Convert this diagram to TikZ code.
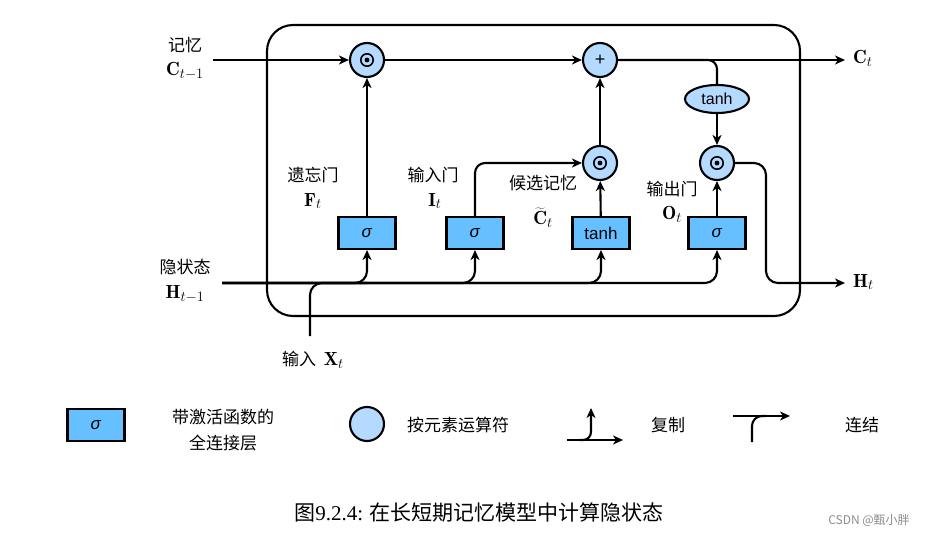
\documentclass[tikz,border=0pt]{standalone}
\usepackage{fontspec}
\setsansfont{Liberation Sans}
\newfontfamily\cjk{Noto Sans CJK SC}
\newfontfamily\capserif{Liberation Serif}
\usepackage{tikz}
\usetikzlibrary{shapes,arrows.meta,positioning,calc}

\definecolor{fcblue}{RGB}{102,192,255}
\definecolor{opblue}{RGB}{180,218,255}
\newcommand{\sg}{\textit{σ}}

\tikzset{
  line/.style={line width=2.1pt},
  arr/.style={line width=2.1pt, -{Stealth[length=10pt,width=9pt,inset=3pt]}},
  fc/.style={draw, line width=2.1pt, fill=fcblue, minimum width=57pt, minimum height=32pt,
    inner sep=0pt, font=\sffamily\fontsize{17}{17}\selectfont},
  op/.style={draw, circle, line width=2.1pt, fill=opblue, minimum size=34pt, inner sep=0pt,
    font=\sffamily\fontsize{18}{18}\selectfont},
  mul/.style={op, path picture={
    \draw[black, line width=1.6pt] (path picture bounding box.center) circle (6.2pt);
    \fill[black] (path picture bounding box.center) circle (2.4pt);}},
  zh/.style={font=\cjk\fontsize{17}{26}\selectfont, align=center, inner sep=0pt},
  var/.style={font=\fontsize{19}{19}\selectfont, inner sep=0pt}
}

\begin{document}
\begin{tikzpicture}[x=1pt,y=-1pt]
    \useasboundingbox (0,0) rectangle (934,537);

    % cell border
    \draw[line, rounded corners=26pt] (267,25) rectangle (800,316);

    % operators and gates
    \node[mul] (m1) at (367,60) {};
    \node[op] (add) at (600,60) {+};
    \node[mul] (m2) at (600,163) {};
    \node[mul] (m3) at (717,163) {};
    \node[ellipse, draw, line width=2.1pt, fill=opblue, minimum width=64pt, minimum height=28pt,
      inner sep=0pt, font=\sffamily\fontsize{16}{16}\selectfont] (th) at (717,99) {tanh};
    \node[fc] (gf) at (367,233) {\sg};
    \node[fc] (gi) at (475,233) {\sg};
    \node[fc] (gc) at (601,233) {tanh};
    \node[fc] (go) at (717,233) {\sg};

    \coordinate (cin) at (213,60);
    \coordinate (cout) at (845,60);
    \coordinate (hin) at (222,283);
    \coordinate (hturn) at (766,283);
    \coordinate (hout) at (845,283);
    \coordinate (xin) at (310,336);

    % memory path
    \draw[arr] (cin) -- (m1);
    \draw[arr] (m1) -- (add);
    \draw[arr] (add) -- (cout);
    \draw[line, rounded corners=9pt] (add.east) -| (th.north);
    \draw[arr] (th) -- (m3);

    % gates
    \draw[arr] (gf) -- (m1);
    \draw[arr, rounded corners=10pt] (gi) |- (m2);
    \draw[arr] (gc) -- (m2);
    \draw[arr] (m2) -- (add);
    \draw[arr] (go) -- (m3);
    \draw[arr, rounded corners=12pt] (m3) -| (hturn) -- (hout);

    % hidden state and input
    \foreach \g in {gf,gi,gc,go}
      \draw[arr, rounded corners=12pt] (hin) -| (\g);
    \draw[line, rounded corners=12pt] (xin) |- (gf |- hin);

    % labels
    \node[zh] (tmem) at (185,45) {记忆};
    \node[var] (vc0) at (185,71) {$\mathbf{C}_{t-1}$};
    \node[zh] (thid) at (185,267) {隐状态};
    \node[var] (vh0) at (185,294) {$\mathbf{H}_{t-1}$};
    \node[zh] (tf) at (313,175) {遗忘门};
    \node[var] (vf) at (313,201) {$\mathbf{F}_{t}$};
    \node[zh] (ti) at (433,175) {输入门};
    \node[var] (vi) at (435,201) {$\mathbf{I}_{t}$};
    \node[zh] (tc) at (543,183) {候选记忆};
    \node[var] (vc) at (543,218) {$\widetilde{\mathbf{C}}_{t}$};
    \node[zh] (to) at (672,189) {输出门};
    \node[var] (vo) at (672,214) {$\mathbf{O}_{t}$};
    \node[var, anchor=west] (vct) at (853,58) {$\mathbf{C}_{t}$};
    \node[var, anchor=west] (vht) at (853,282) {$\mathbf{H}_{t}$};
    \node[zh] (tx) at (313,360) {输入\ \ {\rmfamily\fontsize{19}{19}\selectfont$\mathbf{X}_{t}$}};

    % legend
    \node[fc] (lfc) at (96,425) {\sg};
    \node[zh] (lfctxt) at (223,430) {带激活函数的\\全连接层};
    \node[op] (lop) at (367,424) {};
    \node[zh] (loptxt) at (458,425) {按元素运算符};
    \coordinate (cpa) at (567,440);
    \coordinate (cpm) at (580,440);
    \coordinate (cpb) at (623,440);
    \coordinate (cpc) at (591,408);
    \draw[arr] (cpa) -- (cpb);
    \draw[arr, rounded corners=8pt] (cpm) -| (cpc);
    \node[zh] (lcp) at (668,425) {复制};
    \coordinate (cca) at (733,416);
    \coordinate (ccb) at (790,416);
    \coordinate (ccc) at (752,442);
    \draw[arr] (cca) -- (ccb);
    \draw[line, rounded corners=10pt] (ccc) |- (766,416);
    \node[zh] (lcc) at (862,425) {连结};

    % caption
    \node[font=\cjk\fontsize{21}{21}\selectfont, inner sep=0pt] (cap) at (479,513)
      {图{\capserif 9.2.4:} 在长短期记忆模型中计算隐状态};
    \node[font=\cjk\fontsize{12}{12}\selectfont, text=black!45, inner sep=0pt] (wm) at (869,521)
      {CSDN @甄小胖};
\end{tikzpicture}
\end{document}
